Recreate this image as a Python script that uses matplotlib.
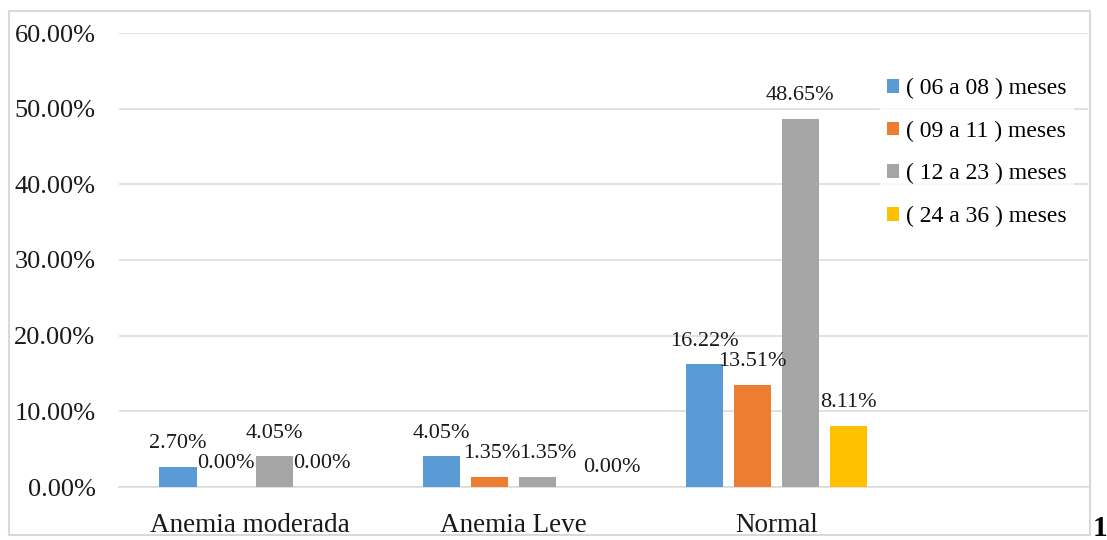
import numpy as np
import matplotlib.pyplot as plt
from matplotlib.patches import Rectangle

plt.rcParams['font.family'] = ['Liberation Serif', 'DejaVu Serif']

# datos: porcentaje por grupo de edad
categorias = ["Anemia moderada", "Anemia Leve", "Normal"]
grupos = ["( 06 a 08 ) meses", "( 09 a 11 ) meses", "( 12 a 23 ) meses", "( 24 a 36 ) meses"]
g_06_08 = [2.70, 4.05, 16.22]
g_09_11 = [0.00, 1.35, 13.51]
g_12_23 = [4.05, 1.35, 48.65]
g_24_36 = [0.00, 0.00, 8.11]
series = [g_06_08, g_09_11, g_12_23, g_24_36]
colores = ["#5B9BD5", "#ED7D31", "#A5A5A5", "#FFC000"]

# corrimientos de etiquetas (px) para que no se encimen
ajustes = {(1, 1): (3, 0), (1, 2): (11, 0), (1, 3): (27, -4)}

W, H = 1107, 540
fig = plt.figure(figsize=(W / 100, H / 100), dpi=100)
ax = fig.add_axes([119 / W, (H - 487) / H, (1088 - 119) / W, (487 - 33) / H])

x = np.arange(len(categorias))
ancho = 0.141
desp = 0.1825
for i, (vals, c, nom) in enumerate(zip(series, colores, grupos)):
    pos = x + (i - 1.5) * desp
    barras = ax.bar(pos, vals, width=ancho, color=c, label=nom, zorder=3)
    for j, (b, v) in enumerate(zip(barras, vals)):
        dx, dy = ajustes.get((j, i), (0, 0))
        ax.annotate(f"{v:.2f}%", (b.get_x() + b.get_width() / 2, v),
                    xytext=(dx, 23 + dy), textcoords='offset pixels',
                    ha='center', va='center', fontsize=16, color='#1a1a1a', zorder=4)

ax.set_ylim(0, 60)
ax.set_xlim(-0.498, 3.184)
ax.set_yticks(np.arange(0, 61, 10))
ax.set_yticklabels([f"{v:.2f}%" for v in range(0, 61, 10)], fontsize=19, color='#1a1a1a')
ax.set_xticks(x)
ax.set_xticklabels(categorias, fontsize=19.5, color='#1a1a1a')
ax.tick_params(axis='y', length=0, pad=17)
ax.tick_params(axis='x', length=0, pad=19)
ax.grid(axis='y', color='#D9D9D9', linewidth=1.1, zorder=0)
for s in ['top', 'right', 'left']:
    ax.spines[s].set_visible(False)
ax.spines['bottom'].set_color('#D9D9D9')
ax.spines['bottom'].set_linewidth(1.1)
ax.set_facecolor('none')

leg = ax.legend(loc='upper left', bbox_to_anchor=(880 / W, (H - 71) / H),
                bbox_transform=fig.transFigure, fontsize=17, frameon=True,
                handlelength=0.51, handleheight=0.51, handletextpad=0.27,
                labelspacing=0.91, borderpad=0.3, borderaxespad=0, fancybox=False)
leg.get_frame().set_facecolor('white')
leg.get_frame().set_edgecolor('white')
leg.set_zorder(5)

# marco del gráfico
fig.patches.append(Rectangle((9 / W, (H - 535) / H), (1090 - 9) / W, (535 - 11) / H,
                             transform=fig.transFigure, fill=False,
                             edgecolor='#D9D9D9', linewidth=1.5))
fig.text(1093 / W, 4 / H, "1", fontsize=21, fontweight='bold', va='baseline', ha='left')

fig.savefig("out.png", dpi=100)
